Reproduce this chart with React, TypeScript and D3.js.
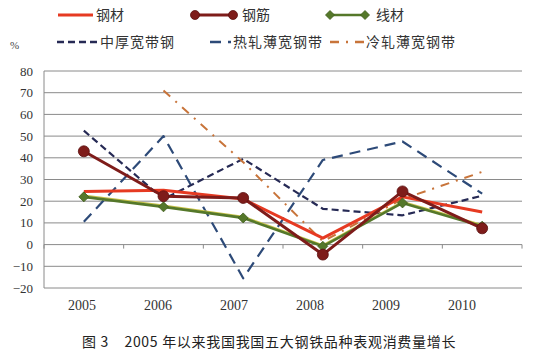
import React from "react";
import * as d3 from "d3";

const years = ["2005", "2006", "2007", "2008", "2009", "2010"];
const yTicks = [80, 70, 60, 50, 40, 30, 20, 10, 0, -10, -20];
const steel = [24.5, 25, 21, 3, 22, 15];
const rebar = [43, 22.3, 21.5, -4.6, 24.5, 7.5];
const wire = [22, 17.4, 12.3, -0.8, 19.2, 8.5];
const medPlate = [52.5, 21, 39.5, 16.5, 13.5, 22.5];
const hotStrip = [10.5, 50, -15.5, 39, 47.5, 23.5];
const coldStrip: (number | null)[] = [null, 71, 38, 1.5, 21, 33.5];

const W = 537;
const H = 358;
const left = 44;
const right = 522;
const top = 71;
const bottom = 288;

type Series = {
  name: string;
  values: (number | null)[];
  color: string;
  width: number;
  dash?: string;
  marker?: "circle" | "diamond";
};

const series: Series[] = [
  { name: "热轧薄宽钢带", values: hotStrip, color: "#2d4a78", width: 2.2, dash: "11,7" },
  { name: "中厚宽带钢", values: medPlate, color: "#262a55", width: 2.2, dash: "7,4" },
  { name: "冷轧薄宽钢带", values: coldStrip, color: "#c8743a", width: 2, dash: "9,7,2,7" },
  { name: "钢材", values: steel, color: "#e63a22", width: 3 },
  { name: "线材", values: wire, color: "#55782a", width: 2.6, marker: "diamond" },
  { name: "钢筋", values: rebar, color: "#7e1c1a", width: 3, marker: "circle" },
];

export default function App() {
  const x = d3.scaleBand<string>().domain(years).range([left, right]);
  const xLabel = d3.scalePoint<string>().domain(years).range([82, 462]);
  const y = d3.scaleLinear().domain([-20, 80]).range([bottom, top]);
  const cx = (yr: string) => (x(yr) as number) + x.bandwidth() / 2;

  const line = d3
    .line<number | null>()
    .defined((d) => d !== null)
    .x((_, i) => cx(years[i]))
    .y((d) => y(d as number));

  const serif = "'Liberation Serif', 'DejaVu Serif', serif";
  const cjk = "'Noto Sans CJK SC', sans-serif";

  const marker = (s: Series, px: number, py: number, key: string | number, r = 5) => {
    if (s.marker === "circle")
      return <circle key={key} cx={px} cy={py} r={r} fill={s.color} stroke="#5a1010" strokeWidth={0.8} />;
    if (s.marker === "diamond")
      return (
        <path
          key={key}
          d={`M${px},${py - r}L${px + r},${py}L${px},${py + r}L${px - r},${py}Z`}
          fill={s.color}
          stroke="#3e5a1a"
          strokeWidth={0.8}
        />
      );
    return null;
  };

  const legendRow1 = [
    { s: series[3], x1: 58, x2: 93, tx: 96 },
    { s: series[5], x1: 192, x2: 236, tx: 242 },
    { s: series[4], x1: 327, x2: 368, tx: 376 },
  ];
  const legendRow2 = [
    { s: series[1], x1: 57, x2: 97, tx: 100 },
    { s: series[0], x1: 210, x2: 231, tx: 233 },
    { s: series[2], x1: 330, x2: 366, tx: 366 },
  ];

  return (
    <svg
      width={W}
      height={H}
      style={{ position: "absolute", left: 0, top: 0, background: "#fff" }}
    >
      {yTicks.map((t) => (
        <line key={t} x1={left} x2={right} y1={y(t)} y2={y(t)} stroke="#8a8a8a" strokeWidth={1} />
      ))}
      <line x1={left} x2={left} y1={top} y2={bottom} stroke="#8a8a8a" strokeWidth={1} />
      {years.map((yr) => (
        <line key={yr} x1={x(yr) as number} x2={x(yr) as number} y1={y(0)} y2={y(0) + 4} stroke="#8a8a8a" />
      ))}
      <line x1={right} x2={right} y1={y(0)} y2={y(0) + 4} stroke="#8a8a8a" />
      {yTicks.map((t) => (
        <text
          key={t}
          x={33}
          y={y(t) + 4.5}
          textAnchor="end"
          fontFamily={serif}
          fontSize={13}
          fill="#333"
        >
          {t < 0 ? `−${-t}` : t}
        </text>
      ))}
      <text x={10} y={49} fontFamily={serif} fontSize={11} fill="#444">
        %
      </text>
      {years.map((yr) => (
        <text
          key={yr}
          x={xLabel(yr)}
          y={310}
          textAnchor="middle"
          fontFamily={serif}
          fontSize={14}
          fill="#333"
        >
          {yr}
        </text>
      ))}
      {series.map((s) => (
        <g key={s.name}>
          {s.name === "线材" && (
            <path d={line(s.values) || ""} fill="none" stroke="#c9c34a" strokeWidth={1.5} transform="translate(0,-1.5)" />
          )}
          <path
            d={line(s.values) || ""}
            fill="none"
            stroke={s.color}
            strokeWidth={s.width}
            strokeDasharray={s.dash}
            strokeLinejoin="round"
          />
          {s.marker &&
            s.values.map((v, i) =>
              v === null ? null : marker(s, cx(years[i]), y(v), i, s.marker === "circle" ? 5.5 : 5)
            )}
        </g>
      ))}
      {legendRow1.map(({ s, x1, x2, tx }) => (
        <g key={s.name}>
          <line x1={x1} x2={x2} y1={15} y2={15} stroke={s.color} strokeWidth={s.width} />
          {s.marker && marker(s, x1 + 3, 15, "a", 4.5)}
          {s.marker && marker(s, x2 - 3, 15, "b", 4.5)}
          <text x={tx} y={20} fontFamily={cjk} fontSize={14} fill="#333">
            {s.name}
          </text>
        </g>
      ))}
      {legendRow2.map(({ s, x1, x2, tx }) => (
        <g key={s.name}>
          <line x1={x1} x2={x2} y1={42} y2={42} stroke={s.color} strokeWidth={2.5} strokeDasharray={s.dash} />
          <text x={tx} y={47} fontFamily={cjk} fontSize={14} fill="#333" letterSpacing={1}>
            {s.name}
          </text>
        </g>
      ))}
      <text x={82} y={347} fontFamily={cjk} fontSize={14} fill="#222" letterSpacing={0.7}>
        图 3{"\u2002\u2002"}2005 年以来我国我国五大钢铁品种表观消费量增长
      </text>
    </svg>
  );
}
